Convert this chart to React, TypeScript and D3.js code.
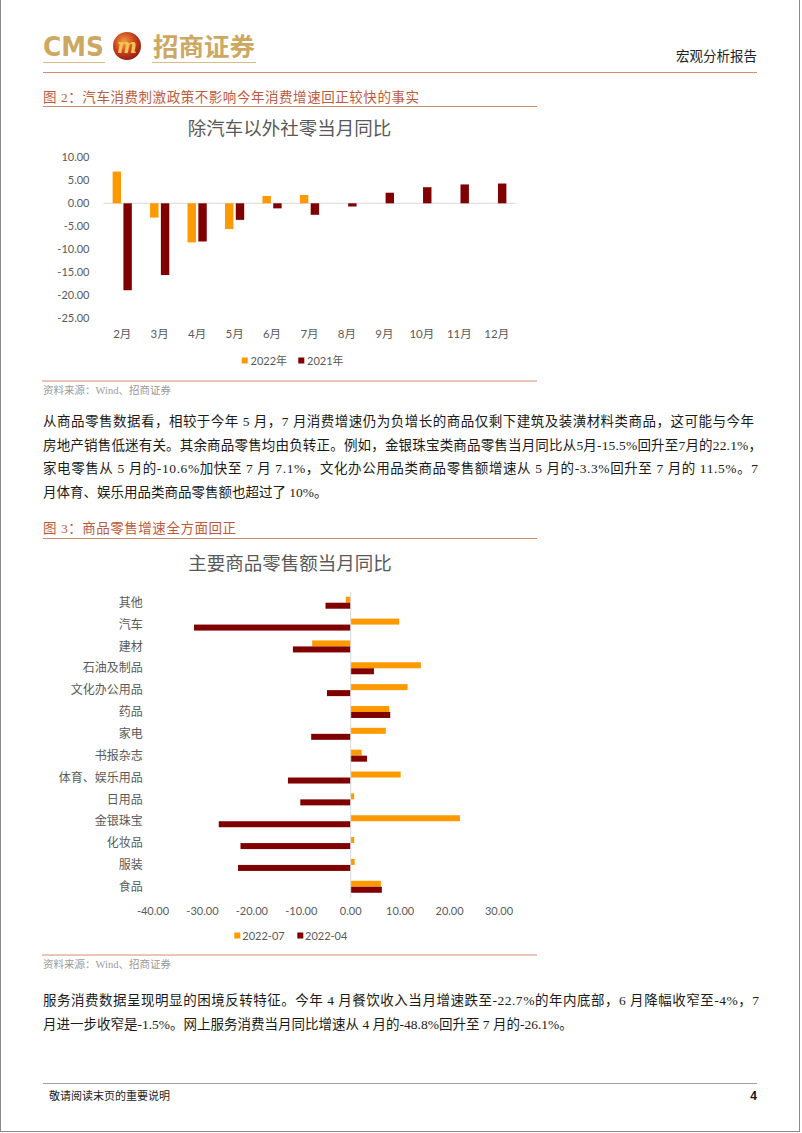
import React from 'react';
import * as d3 from 'd3';

// ---------- Data: chart 1 ----------
const months = ['2月', '3月', '4月', '5月', '6月', '7月', '8月', '9月', '10月', '11月', '12月'];
const series1 = ['2022年', '2021年'];
const values2022: (number | null)[] = [6.9, -3.1, -8.5, -5.6, 1.6, 1.8, null, null, null, null, null];
const values2021: (number | null)[] = [-18.9, -15.6, -8.3, -3.6, -1.1, -2.5, -0.7, 2.3, 3.5, 4.1, 4.3];
const yTicks1 = [10, 5, 0, -5, -10, -15, -20, -25];

// ---------- Data: chart 2 ----------
const categories = ['其他', '汽车', '建材', '石油及制品', '文化办公用品', '药品', '家电', '书报杂志', '体育、娱乐用品', '日用品', '金银珠宝', '化妆品', '服装', '食品'];
const series2 = ['2022-07', '2022-04'];
const jul2022 = [-1.0, 9.8, -7.8, 14.2, 11.5, 7.8, 7.1, 2.2, 10.1, 0.7, 22.1, 0.7, 0.8, 6.1];
const apr2022 = [-5.1, -31.7, -11.7, 4.7, -4.8, 8.0, -8.0, 3.3, -12.7, -10.2, -26.7, -22.3, -22.8, 6.3];
const xTicks2 = [-40, -30, -20, -10, 0, 10, 20, 30];

// ---------- Text ----------
const para1 = [
  '从商品零售数据看，相较于今年 5 月，7 月消费增速仍为负增长的商品仅剩下建筑及装潢材料类商品，这可能与今年',
  '房地产销售低迷有关。其余商品零售均由负转正。例如，金银珠宝类商品零售当月同比从5月-15.5%回升至7月的22.1%，',
  '家电零售从 5 月的-10.6%加快至 7 月 7.1%，文化办公用品类商品零售额增速从 5 月的-3.3%回升至 7 月的 11.5%。7',
  '月体育、娱乐用品类商品零售额也超过了 10%。',
];
const para1Widths = [711, 719, 715, null];
const para2 = [
  '服务消费数据呈现明显的困境反转特征。今年 4 月餐饮收入当月增速跌至-22.7%的年内底部，6 月降幅收窄至-4%，7',
  '月进一步收窄是-1.5%。网上服务消费当月同比增速从 4 月的-48.8%回升至 7 月的-26.1%。',
];
const para2Widths = [716, null];

const ORANGE = '#FF9900';
const DARK = '#800000';
const GRAY = '#595959';
const CHART_FONT = "Lato, 'Noto Sans CJK SC', sans-serif";
const BODY_FONT = "'Liberation Serif', 'Noto Sans CJK SC', serif";
const CAP_COLOR = '#BC5A3E';
const LINE_COLOR = '#D88A70';

const fmt = (v: number) => v.toFixed(2);

function Chart1() {
  const x = d3.scaleBand<string>().domain(months).range([103.5, 515.5]);
  const xs = d3.scaleBand<string>().domain(series1).range([-9.6, 9.6]).paddingInner(0.22);
  const y = d3.scaleLinear().domain([-25, 10]).range([318.3, 157.3]);
  const seriesVals = [values2022, values2021];
  const colors = [ORANGE, DARK];
  const y0 = y(0);
  return (
    <g>
      <text x={289.5} y={135} textAnchor="middle" fontSize={18.5} fill={GRAY} fontFamily={CHART_FONT}>
        除汽车以外社零当月同比
      </text>
      {yTicks1.map((t) => (
        <text key={t} x={89.5} y={y(t) + 4} textAnchor="end" fontSize={11} fill={GRAY} fontFamily={CHART_FONT}>
          {fmt(t)}
        </text>
      ))}
      <line x1={103.5} x2={515.5} y1={y0} y2={y0} stroke="#D9D9D9" strokeWidth={1} />
      {months.map((m, i) =>
        series1.map((s, j) => {
          const v = seriesVals[j][i];
          if (v === null || v === undefined) return null;
          const cx = (x(m) as number) + x.bandwidth() / 2 + (xs(s) as number);
          return (
            <rect key={m + s} x={cx} width={xs.bandwidth()} y={Math.min(y(v), y0)} height={Math.abs(y(v) - y0)} fill={colors[j]} />
          );
        })
      )}
      {months.map((m) => (
        <text key={m} x={(x(m) as number) + x.bandwidth() / 2} y={337.5} textAnchor="middle" fontSize={11.5} fill={GRAY} fontFamily={CHART_FONT}>
          {m}
        </text>
      ))}
      <rect x={241.7} y={357.5} width={6} height={6} fill={ORANGE} />
      <text x={250.5} y={364.5} fontSize={11} fill={GRAY} fontFamily={CHART_FONT}>{series1[0]}</text>
      <rect x={298.3} y={357.5} width={6} height={6} fill={DARK} />
      <text x={307} y={364.5} fontSize={11} fill={GRAY} fontFamily={CHART_FONT}>{series1[1]}</text>
    </g>
  );
}

function Chart2() {
  const yb = d3.scaleBand<string>().domain(categories).range([591.8, 897.7]);
  const ys = d3.scaleBand<string>().domain(series2).range([-6, 6]);
  const x = d3.scaleLinear().domain([-40, 30]).range([153, 499]);
  const x0 = x(0);
  const seriesVals = [jul2022, apr2022];
  const colors = [ORANGE, DARK];
  return (
    <g>
      <text x={290} y={570} textAnchor="middle" fontSize={18.5} fill={GRAY} fontFamily={CHART_FONT}>
        主要商品零售额当月同比
      </text>
      {categories.map((c, i) =>
        series2.map((s, j) => {
          const v = seriesVals[j][i];
          const cy = (yb(c) as number) + yb.bandwidth() / 2 + (ys(s) as number);
          return (
            <rect key={c + s} x={Math.min(x(v), x0)} width={Math.abs(x(v) - x0)} y={cy} height={ys.bandwidth()} fill={colors[j]} />
          );
        })
      )}
      <line x1={x0} x2={x0} y1={591.8} y2={897.7} stroke="#D9D9D9" strokeWidth={1} />
      {categories.map((c) => (
        <text key={c} x={142.7} y={(yb(c) as number) + yb.bandwidth() / 2 + 4.2} textAnchor="end" fontSize={12} fill={GRAY} fontFamily={CHART_FONT}>
          {c}
        </text>
      ))}
      {xTicks2.map((t) => (
        <text key={t} x={x(t)} y={915} textAnchor="middle" fontSize={11} fill={GRAY} fontFamily={CHART_FONT}>
          {fmt(t)}
        </text>
      ))}
      <rect x={234.3} y={932.5} width={6} height={6} fill={ORANGE} />
      <text x={242.3} y={940} fontSize={11} fill={GRAY} fontFamily={CHART_FONT}>{series2[0]}</text>
      <rect x={297.3} y={932.5} width={6} height={6} fill={DARK} />
      <text x={305} y={940} fontSize={11} fill={GRAY} fontFamily={CHART_FONT}>{series2[1]}</text>
    </g>
  );
}

function Paragraph({ lines, widths, top }: { lines: string[]; widths: (number | null)[]; top: number }) {
  return (
    <g>
      {lines.map((l, i) => (
        <text
          key={i}
          x={43}
          y={top + i * 23.5}
          fontSize={13.5}
          fill="#1a1a1a"
          fontFamily={BODY_FONT}
          {...(widths[i] ? { textLength: widths[i] as number, lengthAdjust: 'spacing' } : {})}
        >
          {l}
        </text>
      ))}
    </g>
  );
}

export default function App() {
  return (
    <svg width={802} height={1133} style={{ position: 'absolute', left: 0, top: 0, background: '#fff' }}>
      <defs>
        <radialGradient id="ball" cx="40%" cy="35%" r="70%">
          <stop offset="0%" stopColor="#F0A040" />
          <stop offset="55%" stopColor="#C8401E" />
          <stop offset="100%" stopColor="#8E1A12" />
        </radialGradient>
      </defs>
      <rect x={0} y={0} width={802} height={1133} fill="#fff" />
      <rect x={0.5} y={-2} width={799} height={1133.5} fill="none" stroke="#8a8a8a" strokeWidth={1} />

      {/* Header */}
      <text x={43} y={55.5} fontSize={27} fontWeight={700} fill="#CDA862" fontFamily="'DejaVu Sans', sans-serif" textLength={61} lengthAdjust="spacingAndGlyphs">
        CMS
      </text>
      <circle cx={127} cy={46} r={14} fill="url(#ball)" />
      <text x={127} y={53} textAnchor="middle" fontSize={20} fontStyle="italic" fontWeight={700} fill="#F3C453" fontFamily="'DejaVu Serif', serif" textLength={20} lengthAdjust="spacingAndGlyphs">
        m
      </text>
      <text x={153} y={56} fontSize={25} fontWeight={700} fill="#CDA862" fontFamily="'Noto Sans CJK SC', sans-serif" textLength={102} lengthAdjust="spacingAndGlyphs">
        招商证券
      </text>
      <line x1={43} x2={105} y1={62.5} y2={62.5} stroke="#D9BD82" strokeWidth={1} />
      <line x1={152} x2={256} y1={62.5} y2={62.5} stroke="#D9BD82" strokeWidth={1} />
      <text x={757} y={60.5} textAnchor="end" fontSize={13.5} fill="#222" fontFamily="'Noto Sans CJK SC', serif">
        宏观分析报告
      </text>
      <line x1={43} x2={757} y1={72.5} y2={72.5} stroke={LINE_COLOR} strokeWidth={1} />

      {/* Figure 2 */}
      <text x={43} y={102} fontSize={13.5} fill={CAP_COLOR} fontFamily={BODY_FONT} textLength={376} lengthAdjust="spacing">
        图 2：汽车消费刺激政策不影响今年消费增速回正较快的事实
      </text>
      <line x1={43} x2={537} y1={106.5} y2={106.5} stroke={LINE_COLOR} strokeWidth={1} />
      <Chart1 />
      <line x1={42} x2={537} y1={381} y2={381} stroke={LINE_COLOR} strokeWidth={1} />
      <text x={43} y={393.5} fontSize={10.5} fill="#9a9a9a" fontFamily={BODY_FONT}>资料来源：Wind、招商证券</text>

      <Paragraph lines={para1} widths={para1Widths} top={426} />

      {/* Figure 3 */}
      <text x={43} y={533} fontSize={13.5} fill={CAP_COLOR} fontFamily={BODY_FONT} textLength={193} lengthAdjust="spacing">
        图 3：商品零售增速全方面回正
      </text>
      <line x1={43} x2={537} y1={538.5} y2={538.5} stroke={LINE_COLOR} strokeWidth={1} />
      <Chart2 />
      <line x1={42} x2={537} y1={955} y2={955} stroke={LINE_COLOR} strokeWidth={1} />
      <text x={43} y={967.5} fontSize={10.5} fill="#9a9a9a" fontFamily={BODY_FONT}>资料来源：Wind、招商证券</text>

      <Paragraph lines={para2} widths={para2Widths} top={1005} />

      {/* Footer */}
      <line x1={43} x2={757} y1={1083.5} y2={1083.5} stroke="#A0A0A0" strokeWidth={1} />
      <text x={49} y={1100} fontSize={11} fill="#222" fontFamily="'Noto Sans CJK SC', serif">敬请阅读末页的重要说明</text>
      <text x={757} y={1100} textAnchor="end" fontSize={12} fontWeight={700} fill="#111" fontFamily="'Liberation Sans', sans-serif">4</text>
    </svg>
  );
}
